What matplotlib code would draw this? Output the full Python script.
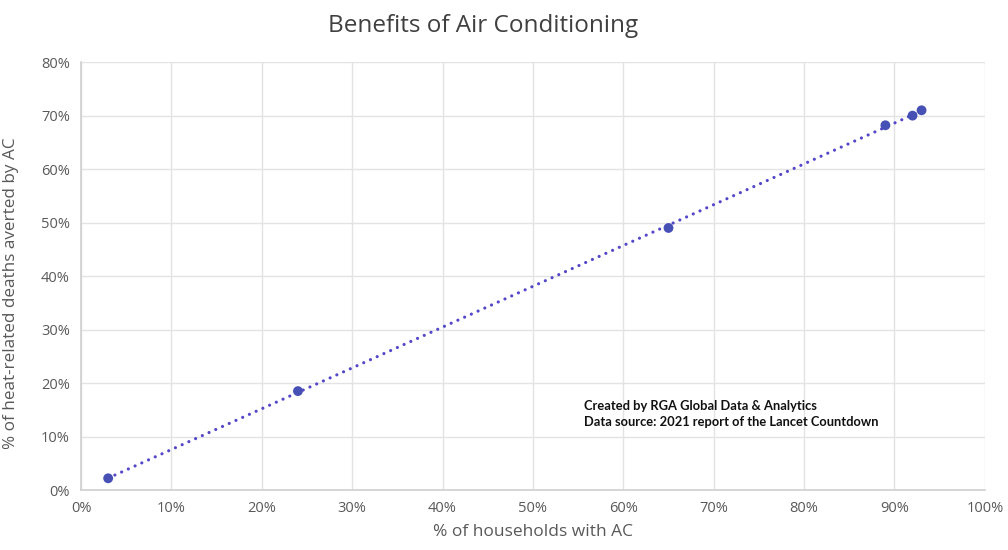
import numpy as np
import matplotlib
matplotlib.use("Agg")
import matplotlib.pyplot as plt
from matplotlib.ticker import PercentFormatter

# Share of households with air conditioning vs share of heat-related deaths averted
households_ac = [3, 24, 65, 89, 92, 93]
deaths_averted = [2.2, 18.5, 49, 68.2, 70, 71]
x_ticks = list(range(0, 101, 10))
y_ticks = list(range(0, 81, 10))

plt.rcParams["font.family"] = ["Open Sans", "DejaVu Sans"]

fig = plt.figure(figsize=(10.08, 5.5), dpi=100)
ax = fig.add_axes([0.0804, 0.109, 0.977 - 0.0804, 0.887 - 0.109])

grid_c = "#e3e3e3"
ax.set_xlim(0, 100)
ax.set_ylim(0, 80)
ax.set_xticks(x_ticks)
ax.set_yticks(y_ticks)
ax.xaxis.set_major_formatter(PercentFormatter(decimals=0))
ax.yaxis.set_major_formatter(PercentFormatter(decimals=0))
ax.grid(True, color=grid_c, linewidth=1.0)
ax.set_axisbelow(True)
for side in ("top", "right"):
    ax.spines[side].set_visible(False)
for side in ("left", "bottom"):
    ax.spines[side].set_color("#d0d0d0")
    ax.spines[side].set_linewidth(1.2)
ax.tick_params(length=0, colors="#595959", labelsize=10.5, pad=8)

# Linear trendline across the observed range, drawn as round dots
xs = np.array(households_ac, dtype=float)
ys = np.array(deaths_averted, dtype=float)
slope, intercept = np.polyfit(xs, ys, 1)
xl = np.array([xs.min(), xs.max()])
ax.plot(xl, slope * xl + intercept, linestyle=(0, (0.01, 2.3)), linewidth=2.3,
        color="#5548c8", dash_capstyle="round", zorder=2)

ax.scatter(households_ac, deaths_averted, s=50, color="#4750b4", zorder=3,
           edgecolors="none")

ax.set_xlabel("% of households with AC", fontsize=12.5, color="#595959", labelpad=6)
ax.set_ylabel("% of heat-related deaths averted by AC", fontsize=12.3,
              color="#595959", labelpad=9)
ax.yaxis.set_label_coords(-0.069, 0.46)

fig.text(0.479, 0.953, "Benefits of Air Conditioning", ha="center", va="center",
         fontsize=17.5, color="#404040")

ax.text(55.6, 14.2, "Created by RGA Global Data & Analytics\n"
        "Data source: 2021 report of the Lancet Countdown",
        fontsize=9.3, fontweight="bold", color="#111111", va="center",
        ha="left", linespacing=1.4, family=["Lato", "DejaVu Sans"])

fig.savefig("out.png", dpi=100, facecolor="white")
